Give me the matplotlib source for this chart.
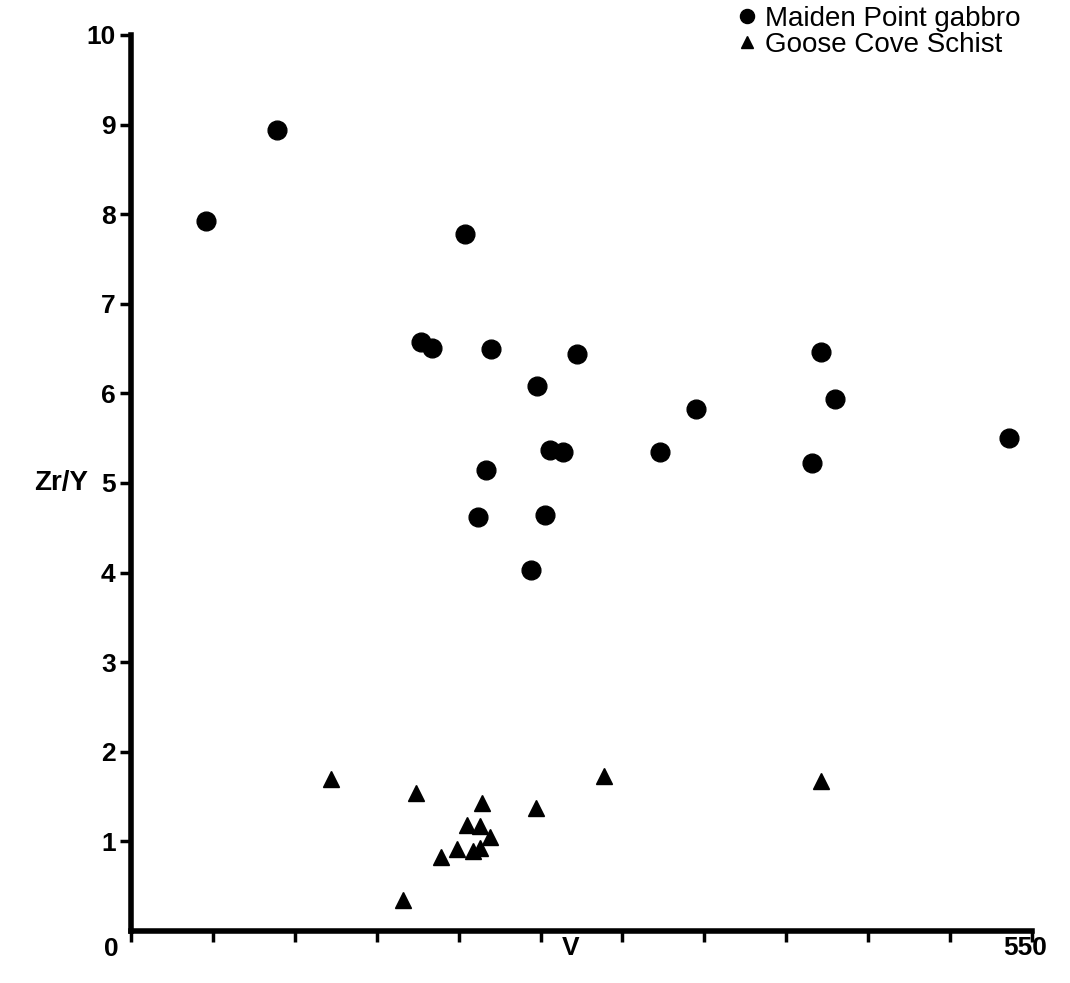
import matplotlib
matplotlib.use("Agg")
import matplotlib.pyplot as plt

# Maiden Point gabbro (circles)
gabbro_v = [46, 89, 204, 177, 184, 220, 272, 248, 421, 430, 345, 256, 264, 323, 416, 536, 217, 212, 253, 244]
gabbro_zry = [7.92, 8.94, 7.78, 6.57, 6.51, 6.50, 6.44, 6.08, 6.46, 5.94, 5.83, 5.37, 5.35, 5.35, 5.22, 5.50, 5.14, 4.62, 4.64, 4.03]

# Goose Cove Schist (triangles)
schist_v = [122, 174, 214, 247, 289, 421, 205, 213, 219, 199, 189, 209, 213, 166]
schist_zry = [1.70, 1.54, 1.43, 1.37, 1.73, 1.67, 1.18, 1.17, 1.05, 0.92, 0.83, 0.89, 0.93, 0.35]

x_ticks = list(range(0, 551, 50))
y_ticks = list(range(1, 11))
series_labels = ["Maiden Point gabbro", "Goose Cove Schist"]

plt.rcParams['font.family'] = ['Liberation Sans', 'DejaVu Sans']

fig = plt.figure(figsize=(10.70, 9.83), dpi=100)
ax = fig.add_axes([0.1224, 0.0529, 0.8421, 0.9115])

ax.plot(gabbro_v, gabbro_zry, linestyle='none', marker='o', markersize=13.5,
        color='black', label=series_labels[0])
ax.plot(schist_v, schist_zry, linestyle='none', marker='^', markersize=11.5,
        color='black', label=series_labels[1])

ax.set_xlim(0, 550)
ax.set_ylim(0, 10)

for s in ['top', 'right']:
    ax.spines[s].set_visible(False)
for s in ['left', 'bottom']:
    ax.spines[s].set_linewidth(4)
    ax.spines[s].set_color('black')

ax.set_xticks(x_ticks)
ax.set_xticklabels([''] * len(x_ticks))
ax.set_yticks(y_ticks)
ax.set_yticklabels([str(t) for t in y_ticks], fontsize=19, fontweight='bold')
ax.tick_params(axis='both', direction='out', length=8, width=2.5, color='black', pad=3)

# corner labels
ax.annotate('0', xy=(0, 0), xycoords='axes fraction', xytext=(-14, -13),
            textcoords='offset points', ha='center', va='center',
            fontsize=19, fontweight='bold')
ax.annotate('550', xy=(1, 0), xycoords='axes fraction', xytext=(-5, -12),
            textcoords='offset points', ha='center', va='center',
            fontsize=19, fontweight='bold')
ax.annotate('V', xy=(0.488, 0), xycoords='axes fraction', xytext=(0, -12),
            textcoords='offset points', ha='center', va='center',
            fontsize=19, fontweight='bold')
ax.annotate('Zr/Y', xy=(0, 5), xycoords=('axes fraction', 'data'), xytext=(-50, 0),
            textcoords='offset points', ha='center', va='center',
            fontsize=20, fontweight='bold')

leg = ax.legend(loc='upper right', bbox_to_anchor=(1.0, 1.045), frameon=False,
                fontsize=20, handletextpad=0.15, borderaxespad=0.0,
                labelspacing=0.0, markerscale=0.75, handlelength=1.0)

fig.savefig('out.png', dpi=100, facecolor='white')
